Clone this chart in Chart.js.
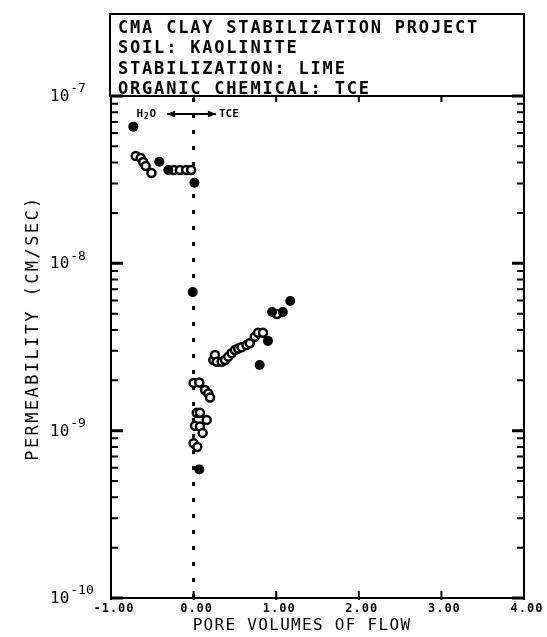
<!DOCTYPE html>
<html>
<head>
<meta charset="utf-8">
<script src="https://cdn.jsdelivr.net/npm/chart.js@4.4.1/dist/chart.umd.min.js"></script>
<style>
  html, body { margin: 0; padding: 0; background: #fff; }
  #wrap { width: 547px; height: 637px; }
</style>
</head>
<body>
<div id="wrap"><canvas id="chart" width="547" height="637"></canvas></div>
<script>
// water phase (before 0 pore volumes)
const h2oFilledX = [-0.73, -0.415, -0.306, 0.01];
const h2oFilledY = [6.56e-8, 4.05e-8, 3.61e-8, 3.03e-8];
const h2oOpenX = [-0.70, -0.64, -0.61, -0.58, -0.51, -0.24, -0.165, -0.09, -0.03];
const h2oOpenY = [4.38e-8, 4.26e-8, 4.03e-8, 3.82e-8, 3.47e-8, 3.61e-8, 3.61e-8, 3.61e-8, 3.61e-8];

// TCE phase
const tceOpenX = [0.0, 0.045, 0.017, 0.077, 0.159, 0.11, 0.038, 0.077, 0.0, 0.069, 0.138, 0.178, 0.199,
  0.238, 0.259, 0.28, 0.34, 0.38, 0.42, 0.46, 0.50, 0.54, 0.58, 0.64, 0.68, 0.74, 0.78, 0.84, 1.01];
const tceOpenY = [8.4e-10, 8.0e-10, 1.07e-9, 1.06e-9, 1.16e-9, 9.7e-10, 1.28e-9, 1.28e-9, 1.93e-9, 1.94e-9, 1.75e-9, 1.67e-9, 1.58e-9,
  2.64e-9, 2.83e-9, 2.58e-9, 2.58e-9, 2.64e-9, 2.77e-9, 2.90e-9, 3.03e-9, 3.10e-9, 3.15e-9, 3.25e-9, 3.33e-9, 3.64e-9, 3.85e-9, 3.85e-9, 4.98e-9];
const tceFilledX = [-0.01, 0.069, 0.80, 0.90, 0.95, 1.08, 1.17];
const tceFilledY = [6.73e-9, 5.87e-10, 2.47e-9, 3.44e-9, 5.12e-9, 5.12e-9, 5.96e-9];

const xTickVals = [-1, 0, 1, 2, 3, 4];
const xTickLabels = ['-1.00', '0.00', '1.00', '2.00', '3.00', '4.00'];
const yDecades = [-10, -9, -8, -7];
const titleLines = ['CMA CLAY STABILIZATION PROJECT', 'SOIL: KAOLINITE', 'STABILIZATION: LIME', 'ORGANIC CHEMICAL: TCE'];
const xTitle = 'PORE VOLUMES OF FLOW';
const yTitle = 'PERMEABILITY (CM/SEC)';

const pts = (xs, ys) => xs.map((x, i) => ({ x, y: ys[i] }));
const MONO = '"DejaVu Sans Mono", monospace';

const frame = {
  id: 'frame',
  afterDraw(chart) {
    const { ctx, chartArea: a, scales: { x, y } } = chart;
    ctx.save();
    ctx.strokeStyle = '#000';
    ctx.fillStyle = '#000';
    ctx.lineWidth = 2;
    ctx.strokeRect(a.left, a.top, a.right - a.left, a.bottom - a.top);
    // title box
    ctx.strokeRect(a.left - 1, 14, a.right - a.left + 1, a.top - 14);
    ctx.font = 'bold 17px ' + MONO;
    ctx.letterSpacing = '1.8px';
    ctx.textAlign = 'left';
    ctx.textBaseline = 'alphabetic';
    titleLines.forEach((t, i) => ctx.fillText(t, a.left + 7, 33 + i * 20.3));

    // y ticks
    yDecades.forEach(d => {
      const py = y.getPixelForValue(Math.pow(10, d));
      ctx.lineWidth = 3;
      ctx.beginPath();
      ctx.moveTo(a.left, py); ctx.lineTo(a.left + 12, py);
      ctx.moveTo(a.right - 12, py); ctx.lineTo(a.right, py);
      ctx.stroke();
      if (d < -7) {
        ctx.lineWidth = 2;
        for (let m = 2; m <= 9; m++) {
          const pm = y.getPixelForValue(m * Math.pow(10, d));
          ctx.beginPath();
          ctx.moveTo(a.left, pm); ctx.lineTo(a.left + 7, pm);
          ctx.moveTo(a.right - 7, pm); ctx.lineTo(a.right, pm);
          ctx.stroke();
        }
      }
      // label 10^d
      ctx.letterSpacing = '0px';
      ctx.font = '16px ' + MONO;
      ctx.textBaseline = 'middle';
      ctx.fillText('10', 50, py + 1);
      const w = ctx.measureText('10').width;
      ctx.font = '13px ' + MONO;
      ctx.fillText(String(d), 50 + w + 1, py - 7);
    });

    // x ticks
    ctx.lineWidth = 2;
    ctx.font = 'bold 12px ' + MONO;
    ctx.letterSpacing = '1px';
    ctx.textAlign = 'center';
    ctx.textBaseline = 'middle';
    xTickVals.forEach((v, i) => {
      const px = x.getPixelForValue(v);
      ctx.beginPath();
      ctx.moveTo(px, a.bottom + 2); ctx.lineTo(px, a.bottom - 7);
      ctx.moveTo(px, a.top); ctx.lineTo(px, a.top + 6);
      ctx.stroke();
      ctx.fillText(xTickLabels[i], px + 3, 609);
    });

    // axis titles
    ctx.font = '16px ' + MONO;
    ctx.letterSpacing = '1.3px';
    ctx.fillText(xTitle, 302, 626);
    ctx.save();
    ctx.translate(34, 328);
    ctx.rotate(-Math.PI / 2);
    ctx.font = '17px ' + MONO;
    ctx.letterSpacing = '2.4px';
    ctx.fillText(yTitle, 0, 0);
    ctx.restore();

    // H2O <-> TCE annotation
    const ay = a.top + 18;
    const x1 = x.getPixelForValue(-0.32), x2 = x.getPixelForValue(0.27);
    const hx = x.getPixelForValue(-0.69);
    ctx.letterSpacing = '0px';
    ctx.font = 'bold 11px ' + MONO;
    ctx.textAlign = 'left';
    ctx.fillText('H', hx, ay);
    ctx.font = 'bold 8px ' + MONO;
    ctx.fillText('2', hx + 7.5, ay + 3);
    ctx.font = 'bold 11px ' + MONO;
    ctx.fillText('O', hx + 13, ay);
    ctx.fillText('TCE', x2 + 3, ay);
    ctx.lineWidth = 2;
    ctx.beginPath();
    ctx.moveTo(x1, ay); ctx.lineTo(x2, ay);
    ctx.stroke();
    ctx.beginPath();
    ctx.moveTo(x1, ay); ctx.lineTo(x1 + 8, ay - 3.5); ctx.lineTo(x1 + 8, ay + 3.5); ctx.closePath();
    ctx.moveTo(x2, ay); ctx.lineTo(x2 - 8, ay - 3.5); ctx.lineTo(x2 - 8, ay + 3.5); ctx.closePath();
    ctx.fill();
    ctx.restore();
  }
};

new Chart(document.getElementById('chart'), {
  type: 'scatter',
  data: {
    datasets: [
      {
        type: 'line', data: [{ x: 0, y: 1e-10 }, { x: 0, y: 1e-7 }],
        borderColor: '#000', borderWidth: 3, borderDash: [4, 12], pointRadius: 0, order: 5
      },
      { data: pts(h2oOpenX, h2oOpenY), pointRadius: 4, borderWidth: 2.5, borderColor: '#000', backgroundColor: '#fff', order: 2 },
      { data: pts(tceOpenX, tceOpenY), pointRadius: 4, borderWidth: 2.5, borderColor: '#000', backgroundColor: '#fff', order: 2 },
      { data: pts(h2oFilledX, h2oFilledY), pointRadius: 5, borderWidth: 0, backgroundColor: '#000', order: 1 },
      { data: pts(tceFilledX, tceFilledY), pointRadius: 5, borderWidth: 0, backgroundColor: '#000', order: 1 }
    ]
  },
  options: {
    responsive: false,
    animation: false,
    layout: { padding: { left: 111, right: 23, top: 96, bottom: 39 } },
    plugins: { legend: { display: false }, tooltip: { enabled: false } },
    scales: {
      x: { type: 'linear', min: -1, max: 4, display: false },
      y: { type: 'logarithmic', min: 1e-10, max: 1e-7, display: false }
    }
  },
  plugins: [frame]
});
</script>
</body>
</html>
